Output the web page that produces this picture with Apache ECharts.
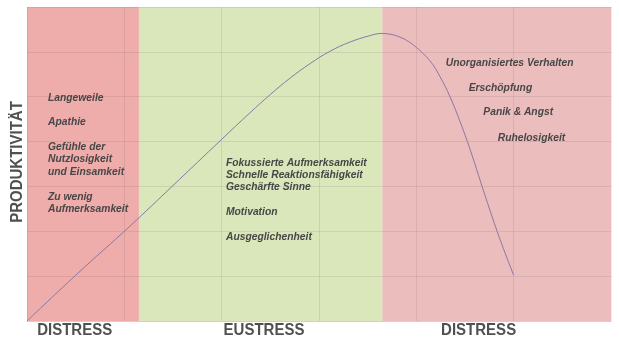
<!DOCTYPE html>
<html><head><meta charset="utf-8">
<script src="https://cdn.jsdelivr.net/npm/echarts@6/dist/echarts.min.js"></script>
<style>html,body{margin:0;padding:0;background:#fff}#c{width:619px;height:348px}</style>
</head><body><div id="c"></div>
<script>
// Curve (productivity vs. stress)
const curveX = [0, 0.5, 1.06, 1.5, 2.0, 2.29, 2.50, 2.70, 2.91, 3.11, 3.32, 3.52, 3.64, 3.74, 3.83, 3.92, 4.00, 4.14, 4.24, 4.35, 4.45, 4.55, 4.64, 4.73, 4.83, 4.92, 5.0];
const curveY = [0, 1.02, 2.12, 3.02, 4.05, 4.64, 5.05, 5.41, 5.74, 6.01, 6.22, 6.36, 6.41, 6.39, 6.33, 6.23, 6.10, 5.80, 5.46, 4.98, 4.44, 3.84, 3.24, 2.64, 2.00, 1.47, 1.02];
// Zones
const zoneStart = [0, 1.15, 3.65];
const zoneEnd = [1.15, 3.65, 6];
const zoneColors = ['#EEACAA', '#D9E7BB', '#ECBDBD'];
const zoneLabels = ['DISTRESS', 'EUSTRESS', 'DISTRESS'];
const zoneLabelX = [0.49, 2.435, 4.64];
// Annotations
const leftNotes = ['Langeweile', 'Apathie', 'Gefühle der\nNutzlosigkeit\nund Einsamkeit', 'Zu wenig\nAufmerksamkeit'];
const midNotes = ['Fokussierte Aufmerksamkeit\nSchnelle Reaktionsfähigkeit\nGeschärfte Sinne', 'Motivation', 'Ausgeglichenheit'];
const rightNotes = ['Unorganisiertes Verhalten', 'Erschöpfung', 'Panik & Angst', 'Ruhelosigkeit'];
const yTitle = 'PRODUKTIVITÄT';

const chart = echarts.init(document.getElementById('c'), null, {renderer: 'canvas'});
const gridCol = 'rgba(110,90,90,0.14)';
const noteFont = 'italic bold 10.3px "Liberation Sans", Arial, sans-serif';
const noteCol = '#474747';
const bigFont = 'bold 15px "Liberation Sans", Arial, sans-serif';

const graphics = [];
// y title
graphics.push({type: 'text', x: 17, y: 162, rotation: Math.PI / 2, scaleY: 1.15, z: 100,
  style: {text: yTitle, font: bigFont, fill: '#505050', textAlign: 'center', textVerticalAlign: 'middle'}});
// left notes
const leftY = [98, 122, 147, 197];
leftNotes.forEach((t, i) => graphics.push({type: 'text', x: 48, y: leftY[i] - 6.3, z: 100,
  style: {text: t, font: noteFont, fill: noteCol, lineHeight: 12.6, textAlign: 'left', textVerticalAlign: 'top'}}));
const midY = [163.3, 211.7, 237];
midNotes.forEach((t, i) => graphics.push({type: 'text', x: 226, y: midY[i] - 5.9, z: 100,
  style: {text: t, font: noteFont, fill: noteCol, lineHeight: 11.8, textAlign: 'left', textVerticalAlign: 'top'}}));
const rightX = [445.7, 468.7, 483.3, 497.7];
const rightY = [63.3, 87.7, 112, 137.7];
rightNotes.forEach((t, i) => graphics.push({type: 'text', x: rightX[i], y: rightY[i], z: 100,
  style: {text: t, font: noteFont, fill: noteCol, textAlign: 'left', textVerticalAlign: 'middle'}}));

const option = {
  animation: false,
  backgroundColor: '#ffffff',
  grid: {left: 27, right: 8, top: 7, bottom: 27},
  xAxis: {type: 'value', min: 0, max: 6, interval: 1, z: 5,
    axisLine: {show: true, lineStyle: {color: 'rgba(160,160,160,0.35)', width: 1}},
    axisTick: {show: false}, axisLabel: {show: false},
    splitLine: {show: true, lineStyle: {color: gridCol, width: 1}}},
  yAxis: {type: 'value', min: 0, max: 7, interval: 1, z: 5,
    axisLine: {show: false}, axisTick: {show: false}, axisLabel: {show: false},
    splitLine: {show: true, lineStyle: {color: gridCol, width: 1}}},
  series: [
    {type: 'line', data: [], z: 1, silent: true,
      markArea: {silent: true, data: zoneStart.map((s, i) => [
        {xAxis: s, yAxis: 0, itemStyle: {color: zoneColors[i], opacity: 1}},
        {xAxis: zoneEnd[i], yAxis: 7}])}},
    {type: 'line', z: 10, smooth: 0.4, showSymbol: false,
      data: curveX.map((x, i) => [x, curveY[i]]),
      lineStyle: {color: '#8878A6', width: 1}}
  ],
  graphic: graphics
};
chart.setOption(option);
// zone labels under axis, positioned via axis scale
const labelGraphics = zoneLabels.map((t, i) => {
  const p = chart.convertToPixel({gridIndex: 0}, [zoneLabelX[i], 0]);
  return {type: 'text', x: p[0], y: p[1] + 9.5, scaleY: 1.15, z: 100,
    style: {text: t, font: bigFont, fill: '#505050', textAlign: 'center', textVerticalAlign: 'middle'}};
});
chart.setOption({graphic: graphics.concat(labelGraphics)});
</script></body></html>
